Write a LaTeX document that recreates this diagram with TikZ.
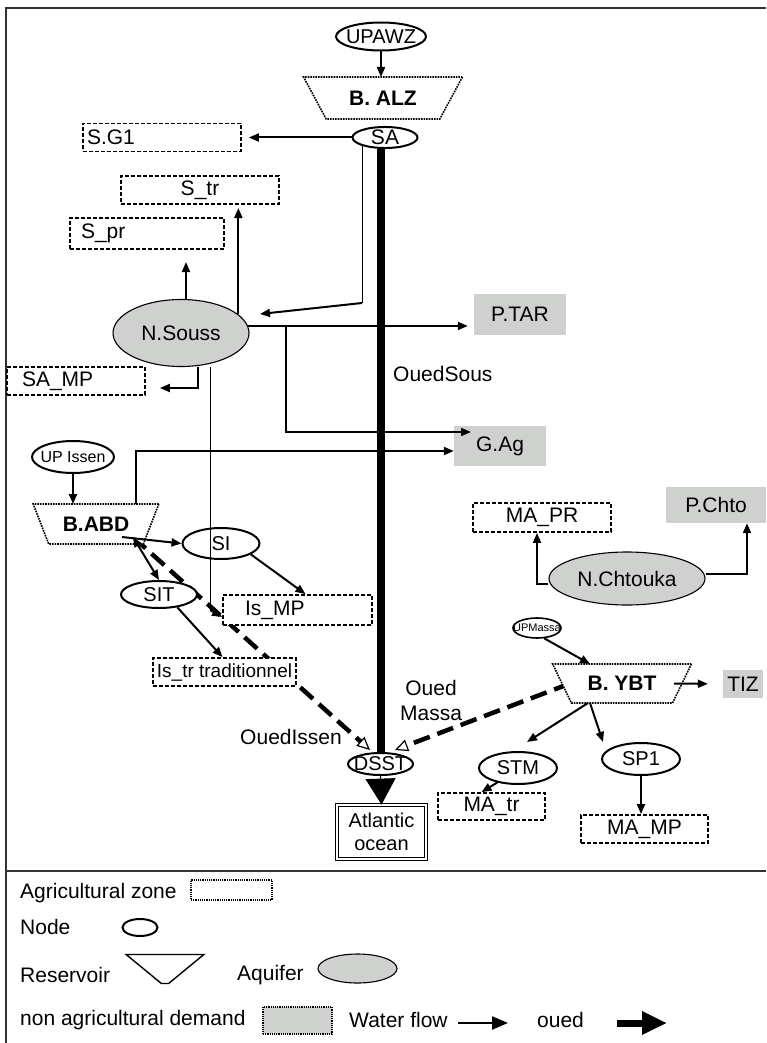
\documentclass[tikz,border=0pt]{standalone}
\usepackage{fontspec}
\setmainfont{Liberation Sans}
\usetikzlibrary{shapes.geometric}
\usetikzlibrary{arrows.meta}
\usetikzlibrary{positioning}
\usetikzlibrary{backgrounds}
\definecolor{aquigray}{RGB}{207,209,207}

\begin{document}
\begin{tikzpicture}[x=1pt, y=-1pt,
    every node/.style={font=\fontsize{21}{25}\selectfont, inner sep=0pt},
    flow/.style={line width=2pt, -{Triangle[length=10pt, width=8pt]}},
    thinflow/.style={line width=1pt},
    odash/.style={line width=4.5pt, dash pattern=on 17pt off 8pt, -{Triangle[open, length=13pt, width=12pt, line width=1.2pt]}},
    agri/.style={draw, fill=white, dash pattern=on 4pt off 2pt, line width=1.8pt, minimum height=28pt},
    demand/.style={fill=aquigray, minimum height=40pt},
    junction/.style={ellipse, draw, fill=white, line width=2pt, font=\fontsize{20}{24}\selectfont,
      execute at begin node={\hbox to 0pt\bgroup\hss}, execute at end node={\hss\egroup}},
    aquifer/.style={ellipse, draw, fill=aquigray, line width=1.1pt},
    reservoir/.style={trapezium, shape border rotate=180, trapezium stretches=true, draw, fill=white,
      densely dotted, line width=1.6pt, font=\bfseries\fontsize{21}{25}\selectfont}]

  \useasboundingbox (0,0) rectangle (766,1043);

  % Frame and legend divider
  \draw[line width=1.2pt, black!80] (6,1043) -- (6,8) -- (766,8);
  \draw[line width=1.2pt, black!80] (6,871) -- (766,871);

  % Upper Souss
  \node[junction, minimum width=90pt, minimum height=28pt] (upawz) at (381,36.5) {UPAWZ};
  \node[reservoir, minimum width=160pt, minimum height=42pt, trapezium angle=47] (balz) at (383,98) {B. ALZ};
  \node[junction, minimum width=65pt, minimum height=19pt, font=\fontsize{21}{24}\selectfont] (sa) at (385,137.5) {SA};
  \node[agri, minimum width=158pt, text width=150pt, inner xsep=4pt, align=left] (sg1) at (162,137.5) {S.G1};
  \node[agri, minimum width=158pt] (str) at (200,190) {S\_tr};
  \node[agri, minimum width=154pt, minimum height=31pt, text width=132pt, inner xsep=11pt, align=left] (spr) at (147,233.5) {S\_pr};
  \node[aquifer, minimum width=136pt, minimum height=67pt] (nsouss) at (181,333) {N.Souss};
  \node[agri, minimum width=138pt, text width=108pt, inner xsep=15pt, align=left] (samp) at (76,381) {SA\_MP};
  \node[demand, minimum width=92pt, minimum height=41pt] (ptar) at (520,314.5) {P.TAR};
  \node[demand, minimum width=92pt] (gag) at (500,446) {G.Ag};

  % Issen
  \node[junction, minimum width=82pt, minimum height=32pt, font=\fontsize{16}{19}\selectfont] (upissen) at (73,457) {UP Issen};
  \node[reservoir, minimum width=126pt, minimum height=40pt, trapezium angle=53] (babd) at (96,524) {B.ABD};
  \node[junction, minimum width=77pt, minimum height=31pt] (si) at (221,543.5) {SI};
  \node[junction, minimum width=76pt, minimum height=27pt] (sit) at (159,594.5) {SIT};
  \node[agri, minimum width=149pt, minimum height=30pt, text width=105pt, inner xsep=22pt, align=left] (ismp) at (297.5,610) {Is\_MP};
  \node[agri, minimum width=143pt, font=\fontsize{19}{22}\selectfont] (istr) at (224.5,672) {Is\_tr traditionnel};

  % Outlet
  \node[junction, minimum width=65pt, minimum height=22pt] (dsst) at (380.5,764) {DSST};
  \node[draw, double, double distance=2pt, line width=0.8pt, minimum width=89pt, minimum height=54pt,
    align=center, font=\fontsize{20}{23}\selectfont] (atl) at (381.5,832) {Atlantic\\ocean};

  % Chtouka
  \node[aquifer, minimum width=156pt, minimum height=53pt] (nchtouka) at (627,578.5) {N.Chtouka};
  \node[agri, minimum width=138pt, minimum height=29pt] (mapr) at (542,517.5) {MA\_PR};
  \node[demand, minimum width=100pt, minimum height=36pt] (pchto) at (716,505) {P.Chto};

  % Massa
  \node[junction, minimum width=48pt, minimum height=20pt, line width=1.6pt, font=\fontsize{11}{13}\selectfont] (upmassa) at (537,628) {UPMassa};
  \node[reservoir, minimum width=140pt, minimum height=39pt, trapezium angle=48.5] (ybt) at (622,683.5) {B. YBT};
  \node[demand, minimum width=40pt, minimum height=28pt] (tiz) at (743,684) {TIZ};
  \node[junction, minimum width=78pt, minimum height=32pt] (stm) at (518,768) {STM};
  \node[junction, minimum width=78pt, minimum height=32pt] (sp1) at (641,759) {SP1};
  \node[agri, minimum width=107pt, minimum height=27pt] (matr) at (491.5,806.5) {MA\_tr};
  \node[agri, minimum width=127pt] (mamp) at (644.5,829) {MA\_MP};

  % River names
  \node[anchor=west] (lsous) at (393,374) {OuedSous};
  \node[anchor=east] (lissen) at (342,737) {OuedIssen};
  \node[align=center] (lmassa) at (431,700) {Oued\\Massa};

  % Reservoir sides and free arrow ends
  \coordinate (balztop) at ([yshift=21pt]balz.center);
  \coordinate (babdtop) at ([yshift=20pt]babd.center);
  \coordinate (ybttop) at ([yshift=19.5pt]ybt.center);
  \coordinate (ybtbot) at ([yshift=-19.5pt]ybt.center);
  \coordinate (bend) at (364,303);
  \coordinate (nsin) at (260,314);
  \coordinate (sprin) at (186,262);
  \coordinate (strin) at (238,208);
  \coordinate (branch) at (286,326);
  \coordinate (gagin) at (471,432);
  \coordinate (ismpbend) at (210,610);
  \coordinate (issenin) at (370,750);
  \coordinate (massain) at (395,750);
  \coordinate (stmin) at (527,742);
  \coordinate (sp1in) at (603,742);

  % Oued Souss down to the sea
  \draw[line width=8pt] (sa.south -| dsst.north) -- (dsst.north);
  \draw[line width=1pt, -{Triangle[length=26pt, width=30pt]}] (dsst.south) -- (atl.north);

  % Upper Souss flows
  \draw[flow] (upawz.south) -- (upawz.south |- balztop);
  \draw[flow, shorten >=7pt] (sa.west) -- (sg1.east);
  \draw[thinflow] (sa.200) -- (sa.200 |- bend);
  \draw[flow] (sa.200 |- bend) -- (nsin);
  \draw[flow] (nsouss.north -| sprin) -- (sprin);
  \draw[flow] (nsouss.18) -- (nsouss.18 |- strin);
  \draw[flow, shorten >=6pt] (nsouss.6) -- (nsouss.6 -| ptar.west);
  \draw[flow] (branch |- nsouss.6) |- (gagin);
  \draw[flow, shorten >=14pt] ([xshift=17pt]nsouss.south) |- ([yshift=-7pt]samp.east);
  \draw[thinflow] ([xshift=29pt]nsouss.south) -- (ismpbend);
  \draw[flow] (ismpbend) -- ([yshift=-7pt]ismp.west);

  % Issen flows
  \draw[flow] (upissen.south) -- (upissen.south |- babdtop);
  \draw[flow] ([xshift=40pt]babdtop) |- ([yshift=-5pt]gag.west);
  \draw[flow] ([shift={(26pt,-13pt)}]babd.center) -- (si.west);
  \draw[line width=2pt, {Triangle[length=10pt, width=8pt]}-{Triangle[length=10pt, width=8pt]}]
    ([shift={(37pt,-13pt)}]babd.center) -- (sit.north);
  \draw[flow] (si.-20) -- ([xshift=8pt]ismp.north);
  \draw[flow] (sit.-35) -- ([xshift=-2pt]istr.north);

  % Chtouka flows
  \draw[flow] ([yshift=-5pt]nchtouka.west) -| ([xshift=-5pt]mapr.south);
  \draw[flow] ([yshift=5pt]nchtouka.east) -| ([xshift=31pt]pchto.south);

  % Massa flows
  \draw[flow] (upmassa.-55) -- ([xshift=-32pt]ybttop);
  \draw[flow, shorten >=15pt] ([xshift=52pt]ybt.center) -- (tiz.west);
  \draw[flow] ([xshift=-34pt]ybtbot) -- (stmin);
  \draw[flow] ([xshift=-32pt]ybtbot) -- (sp1in);
  \draw[flow] (stm.-145) -- ([xshift=-10pt]matr.north);
  \draw[flow] (sp1.south) -- (sp1.south |- mamp.north);

  % Tributaries run under the boxes
  \begin{scope}[on background layer]
    \draw[odash] ([shift={(37pt,-13pt)}]babd.center) -- (issenin);
    \draw[odash] ([xshift=-52pt]ybt.center) -- (massain);
  \end{scope}

  % Legend
  \node[anchor=west] (lagri) at (20,893) {Agricultural zone};
  \node[draw, densely dotted, line width=1.2pt, minimum width=81pt, minimum height=20pt] (kagri) at (231.5,890) {};
  \node[anchor=west] (lnode) at (20,927) {Node};
  \node[ellipse, draw, line width=2pt, minimum width=35pt, minimum height=17pt] (knode) at (140,927.5) {};
  \node[anchor=west] (lres) at (20,975) {Reservoir};
  \node[trapezium, shape border rotate=180, trapezium stretches=true, draw, line width=1.4pt, inner sep=2pt,
    minimum width=78pt, minimum height=28pt, trapezium angle=56] (kres) at (165,969) {\strut};
  \node[anchor=west] (laqui) at (237,975) {Aquifer};
  \node[aquifer, minimum width=79pt, minimum height=29pt] (kaqui) at (357.5,968.5) {};
  \node[anchor=west] (ldem) at (20,1020) {non agricultural demand};
  \node[demand, draw, densely dotted, line width=1.2pt, minimum width=69pt, minimum height=27pt] (kdem) at (297.5,1020.5) {};
  \node[anchor=west] (lflow) at (349,1020) {Water flow};
  \coordinate (kflowa) at (458,1023);
  \coordinate (kflowb) at (508,1023);
  \draw[line width=2.2pt, -{Triangle[length=16pt, width=13pt]}] (kflowa) -- (kflowb);
  \node[anchor=west] (loued) at (537,1020) {oued};
  \coordinate (kouedA) at (617,1023);
  \coordinate (kouedB) at (667,1023);
  \draw[line width=7pt, -{Triangle[length=25pt, width=22pt]}] (kouedA) -- (kouedB);

\end{tikzpicture}
\end{document}
